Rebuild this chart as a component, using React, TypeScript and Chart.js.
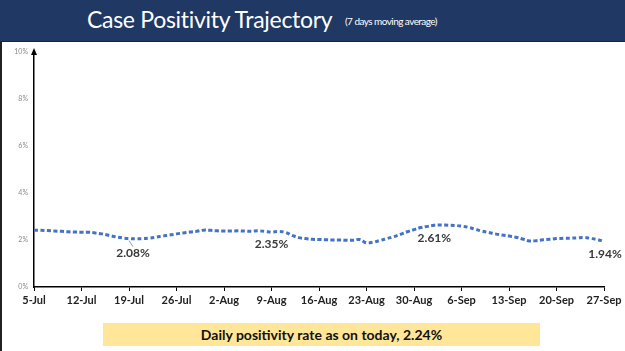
import React, { useEffect, useRef } from "react";
import { Chart, registerables } from "chart.js";

Chart.register(...registerables);

const tickLabels = ["5-Jul", "12-Jul", "19-Jul", "26-Jul", "2-Aug", "9-Aug", "16-Aug", "23-Aug", "30-Aug", "6-Sep", "13-Sep", "20-Sep", "27-Sep"];

// daily 7-day moving average positivity (%) from 5-Jul to 27-Sep
const positivity = [
  2.42, 2.41, 2.40, 2.38, 2.37, 2.35, 2.34,
  2.33, 2.33, 2.30, 2.26, 2.20, 2.14, 2.09,
  2.06, 2.05, 2.06, 2.08, 2.12, 2.17, 2.21,
  2.26, 2.30, 2.34, 2.37, 2.42, 2.41, 2.39,
  2.38, 2.38, 2.39, 2.38, 2.37, 2.39, 2.37,
  2.34, 2.36, 2.33, 2.20, 2.10, 2.06, 2.03,
  2.02, 2.01, 2.00, 2.00, 1.99, 1.99, 2.02,
  1.88, 1.91, 1.98, 2.06, 2.14, 2.24, 2.35,
  2.44, 2.53, 2.58, 2.63, 2.64, 2.63, 2.62,
  2.59, 2.54, 2.46, 2.38, 2.32, 2.26, 2.21,
  2.17, 2.12, 2.04, 1.96, 1.97, 2.01, 2.03,
  2.06, 2.07, 2.08, 2.09, 2.11, 2.07, 2.02,
  1.94,
];

const calloutIndex = [14, 35, 59, 84];
const calloutText = ["2.08%", "2.35%", "2.61%", "1.94%"];

const yTicks = [0, 2, 4, 6, 8, 10];

const FONT = "Lato, 'Open Sans', sans-serif";

const calloutPlugin = {
  id: "callouts",
  afterDraw(chart: any) {
    const ctx = chart.ctx;
    const xs = chart.scales.x;
    const ys = chart.scales.y;
    const area = chart.chartArea;
    ctx.save();
    ctx.fillStyle = "#000";
    ctx.beginPath();
    ctx.moveTo(area.left, area.top - 4);
    ctx.lineTo(area.left - 3, area.top + 3);
    ctx.lineTo(area.left + 3, area.top + 3);
    ctx.closePath();
    ctx.fill();
    const offsets = [[4, 15], [0, 12], [0, 13], [1, 13]];
    ctx.font = `bold 12px ${FONT}`;
    ctx.fillStyle = "#3a3a3a";
    ctx.textAlign = "center";
    ctx.textBaseline = "middle";
    calloutIndex.forEach((idx, i) => {
      const px = xs.getPixelForValue(idx);
      const py = ys.getPixelForValue(positivity[idx]);
      const [dx, dy] = offsets[i];
      if (i === 0) {
        ctx.strokeStyle = "#999";
        ctx.lineWidth = 1;
        ctx.beginPath();
        ctx.moveTo(px, py + 2);
        ctx.lineTo(px + dx, py + dy - 7);
        ctx.stroke();
      }
      ctx.fillText(calloutText[i], px + dx, py + dy);
    });
    ctx.restore();
  },
};

export default function App() {
  const ref = useRef<HTMLCanvasElement>(null);
  useEffect(() => {
    document.body.style.margin = "0";
    const chart = new Chart(ref.current!, {
      type: "line",
      data: {
        datasets: [
          {
            data: positivity.map((v, i) => ({ x: i, y: v })),
            borderColor: "#4472C4",
            borderWidth: 3,
            borderDash: [4, 2.5],
            borderCapStyle: "butt",
            pointRadius: 0,
            tension: 0.4,
            fill: false,
          },
        ],
      },
      options: {
        animation: false,
        responsive: false,
        maintainAspectRatio: false,
        layout: { padding: { top: 52, right: 21, left: 0, bottom: 0 } },
        plugins: { legend: { display: false }, tooltip: { enabled: false } },
        scales: {
          x: {
            type: "linear",
            min: 0,
            max: 84,
            afterBuildTicks: (s: any) => {
              s.ticks = tickLabels.map((_, i) => ({ value: i * 7 }));
            },
            afterFit: (s: any) => {
              s.height = 64;
            },
            ticks: {
              autoSkip: false,
              maxRotation: 0,
              padding: 3,
              color: "#222",
              font: { family: FONT, size: 11, weight: "bold" },
              callback: (v: any) => tickLabels[Math.round(v / 7)],
            },
            grid: { display: true, drawOnChartArea: false, drawTicks: true, tickLength: 4, color: "#000" },
            border: { display: true, color: "#000", width: 1.5 },
          },
          y: {
            min: 0,
            max: 10,
            afterBuildTicks: (s: any) => {
              s.ticks = yTicks.map((v) => ({ value: v }));
            },
            afterFit: (s: any) => {
              s.width = 34;
            },
            ticks: {
              padding: 6,
              color: "#8a8a8a",
              font: { family: FONT, size: 7 },
              callback: (v: any) => v + "%",
            },
            grid: { display: false, drawTicks: false },
            border: { display: true, color: "#000", width: 1.5 },
          },
        },
      },
      plugins: [calloutPlugin],
    } as any);
    return () => chart.destroy();
  }, []);

  return (
    <div style={{ position: "fixed", left: 0, top: 0, width: 625, height: 351, background: "#fff", overflow: "hidden" }}>
      <canvas ref={ref} width={625} height={351} style={{ position: "absolute", left: 0, top: 0, width: 625, height: 351 }} />
      <div
        style={{
          position: "absolute",
          left: 0,
          top: 0,
          width: 625,
          height: 41,
          background: "#1F3864",
          borderBottom: "1px solid #142647",
          color: "#fff",
          fontFamily: FONT,
        }}
      >
        <span style={{ position: "absolute", left: 87, top: 5, fontSize: 23, letterSpacing: -0.3, whiteSpace: "nowrap" }}>
          Case Positivity Trajectory
        </span>
        <span style={{ position: "absolute", left: 345, top: 15, fontSize: 10, letterSpacing: -0.55, whiteSpace: "nowrap" }}>
          (7 days moving average)
        </span>
      </div>
      <div style={{ position: "absolute", left: 0, top: 42, width: 2, height: 309, background: "#222" }} />
      <div
        style={{
          position: "absolute",
          left: 103,
          top: 323,
          width: 437,
          height: 23,
          background: "#FFE699",
          display: "flex",
          alignItems: "center",
          justifyContent: "center",
          fontFamily: FONT,
          fontWeight: "bold",
          fontSize: 14,
          color: "#111",
        }}
      >
        Daily positivity rate as on today, 2.24%
      </div>
    </div>
  );
}
